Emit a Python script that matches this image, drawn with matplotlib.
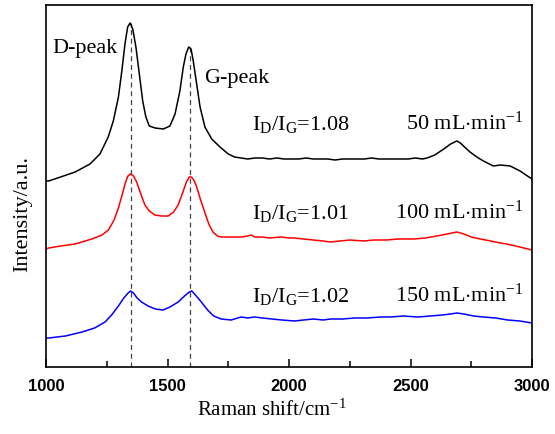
import numpy as np
import matplotlib
matplotlib.use("Agg")
import matplotlib.pyplot as plt
from matplotlib.ticker import MultipleLocator

plt.rcParams['font.family'] = ['Liberation Serif', 'DejaVu Serif']
plt.rcParams['mathtext.fontset'] = 'custom'
plt.rcParams['mathtext.rm'] = 'Liberation Serif'
plt.rcParams['mathtext.it'] = 'Liberation Serif:italic'

# Raman spectra (stacked, arbitrary units)
x_50 = [1000, 1011, 1060, 1120, 1181, 1222, 1256, 1277, 1298, 1312, 1325, 1336, 1346, 1357,
        1370, 1384, 1398, 1411, 1425, 1449, 1483, 1510, 1531, 1551, 1565, 1576, 1587,
        1597, 1606, 1620, 1634, 1654, 1682, 1716, 1750, 1776, 1803, 1830, 1860, 1890, 1920,
        1950, 1980, 2010, 2040, 2070, 2100, 2130, 2160, 2190, 2220, 2250, 2280, 2310, 2340,
        2370, 2400, 2430, 2460, 2490, 2520, 2550, 2568, 2600, 2637, 2665, 2691, 2705, 2718,
        2745, 2773, 2800, 2841, 2870, 2910, 2951, 2975, 3000]
y_50 = [186, 186, 190, 195, 203, 213, 230, 246, 270, 296, 323, 340, 344, 338,
        320, 293, 266, 250, 241, 239, 238, 241, 253, 276, 300, 313, 320,
        318, 306, 283, 260, 240, 228, 220, 213, 210, 209, 208, 209, 209, 208,
        209, 208, 208, 208, 209, 208, 208, 208, 207, 208, 208, 208, 208, 209,
        208, 208, 208, 208, 208, 209, 208, 209, 212, 218, 223, 226, 224, 221,
        215, 210, 206, 201, 202, 201, 196, 192, 188]

x_100 = [1000, 1011, 1060, 1120, 1189, 1230, 1257, 1280, 1298, 1312, 1325, 1337, 1348, 1360,
         1373, 1390, 1407, 1425, 1448, 1475, 1503, 1525, 1544, 1562, 1578, 1590, 1598, 1608,
         1619, 1635, 1653, 1670, 1687, 1705, 1721, 1760, 1803, 1830, 1844, 1860, 1890, 1920,
         1967, 2000, 2022, 2060, 2100, 2140, 2172, 2210, 2250, 2309, 2350, 2400, 2450, 2514,
         2560, 2609, 2650, 2691, 2720, 2750, 2787, 2830, 2870, 2896, 2950, 3000]
y_100 = [118, 119, 121, 123, 128, 132, 137, 147, 159, 171, 183, 191, 193, 191,
         185, 173, 162, 156, 152, 151, 151, 155, 162, 174, 185, 190, 190, 187,
         181, 168, 155, 143, 135, 131, 130, 130, 130, 131, 132, 130, 130, 129,
         130, 129, 129, 128, 127, 126, 125, 126, 127, 126, 127, 127, 128, 128,
         129, 131, 133, 135, 133, 130, 128, 126, 124, 123, 120, 117]

x_150 = [1000, 1011, 1080, 1148, 1200, 1243, 1270, 1298, 1320, 1338, 1348, 1360, 1375, 1393,
         1420, 1450, 1482, 1510, 1544, 1570, 1590, 1600, 1615, 1639, 1665, 1690, 1721, 1762,
         1803, 1830, 1858, 1890, 1930, 1970, 2022, 2060, 2100, 2140, 2172, 2220, 2270, 2320,
         2377, 2420, 2470, 2530, 2582, 2630, 2665, 2691, 2720, 2760, 2800, 2850, 2900, 2950, 3000]
y_150 = [29, 29, 31, 35, 39, 45, 52, 61, 69, 74, 76, 74, 69, 65,
         61, 58, 57, 60, 65, 71, 75, 76, 72, 65, 57, 51, 48, 47,
         50, 49, 50, 49, 48, 47, 46, 47, 48, 47, 48, 48, 49, 49,
         50, 50, 51, 50, 51, 52, 53, 54, 53, 51, 50, 49, 47, 46, 44]

peak_pos = [1348, 1593]
peak_top = [344, 320]

ratios = ["1.08", "1.01", "1.02"]
flows = ["50", "100", "150"]
label_y = [238, 149, 66]

fig = plt.figure(figsize=(5.55, 4.35), dpi=100)
ax = fig.add_axes([46/555, 1-368/435, 486/555, 362/435])

ax.plot(x_50, y_50, color="black", lw=1.1)
ax.plot(x_100, y_100, color="#ff0000", lw=1.1)
ax.plot(x_150, y_150, color="#0000ff", lw=1.1)

for xp, yt in zip(peak_pos, peak_top):
    ax.plot([xp, xp], [0, yt], color="#444444", lw=0.9, ls=(0, (4, 3)), zorder=0)

ax.set_xlim(1000, 3000)
ax.set_ylim(0, 362)
ax.xaxis.set_major_locator(MultipleLocator(500))
ax.xaxis.set_minor_locator(MultipleLocator(250))
ax.tick_params(axis="x", which="major", direction="in", length=6, width=1.1, pad=8)
ax.tick_params(axis="x", which="minor", direction="in", length=4, width=1.1)
ax.set_yticks([])
for lab in ax.get_xticklabels():
    lab.set_fontfamily("Liberation Sans")
    lab.set_fontweight("bold")
    lab.set_fontsize(12)
for s in ax.spines.values():
    s.set_linewidth(1.2)

ax.set_xlabel(r"Raman shift/cm$^{-1}$", fontsize=15)
ax.xaxis.set_label_coords(0.465, -0.116)
ax.xaxis.label.set_va("center")
ax.set_ylabel("Intensity/a.u.", fontsize=16)
ax.yaxis.set_label_coords(-0.047, 0.425)
ax.yaxis.label.set_va("center")

ax.text(1160, 320, "D-peak", fontsize=16, ha="center", va="center")
ax.text(1784, 290, "G-peak", fontsize=16, ha="center", va="center")

for r, f, yl in zip(ratios, flows, label_y):
    ax.text(1848, yl, r"I$_\mathrm{D}$/I$_\mathrm{G}$=" + r, fontsize=16, ha="left", va="baseline")
    ax.text(2963, yl, f + r" mL$\cdot$min$^{\mathrm{-1}}$", fontsize=16, ha="right", va="baseline")

fig.savefig("out.png", dpi=100, facecolor="white")
